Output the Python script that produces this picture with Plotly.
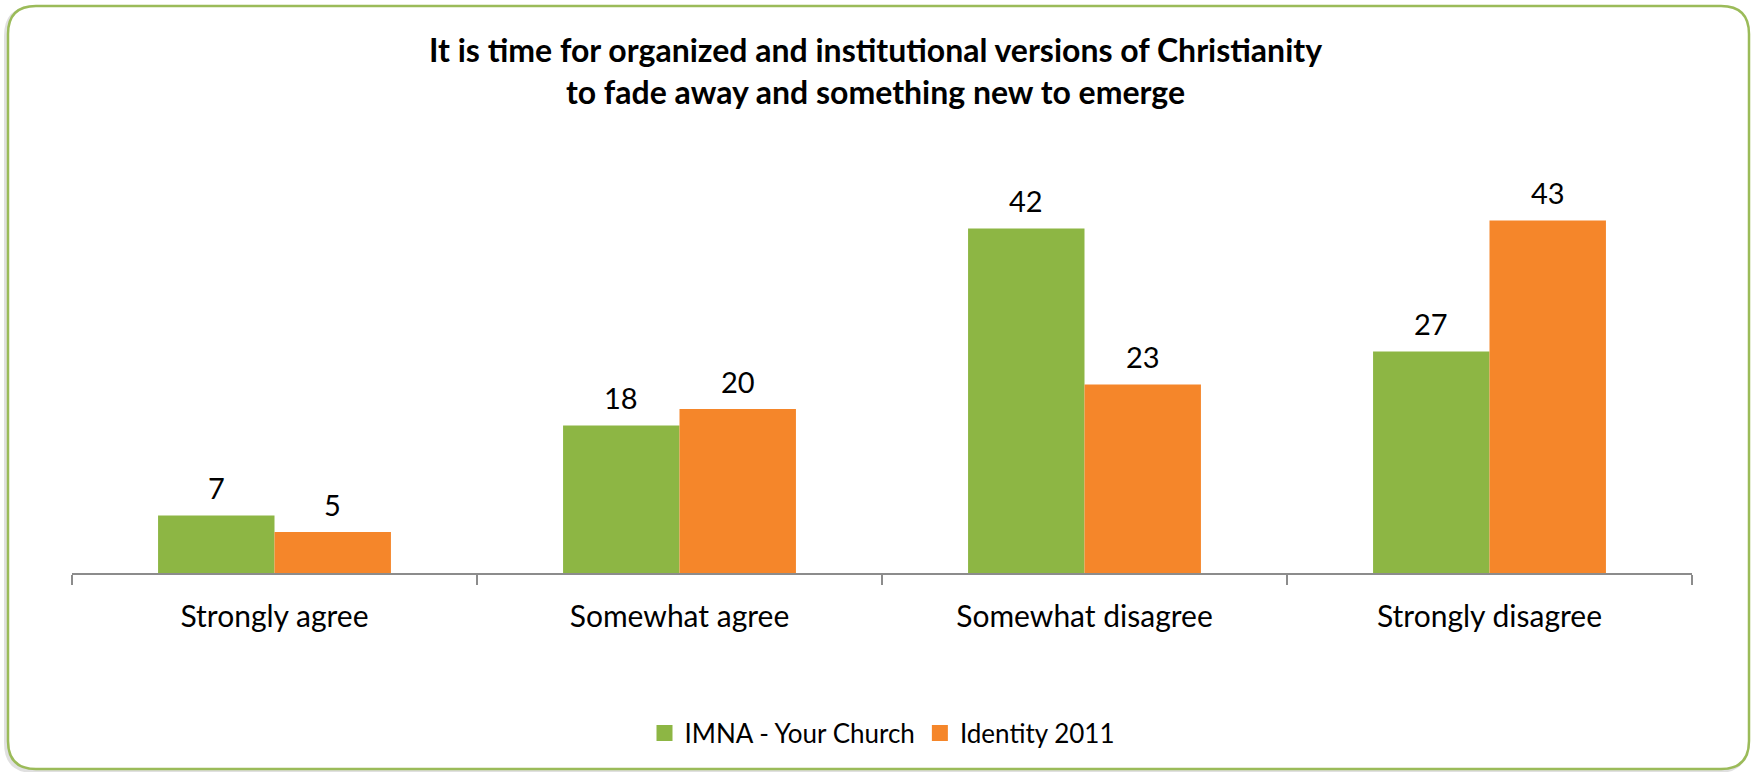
import plotly.graph_objects as go

categories = ["Strongly agree", "Somewhat agree", "Somewhat disagree", "Strongly disagree"]
series_names = ["IMNA - Your Church", "Identity 2011"]
imna_values = [7, 18, 42, 27]
identity_values = [5, 20, 23, 43]
series_values = [imna_values, identity_values]
series_colors = ["#8DB644", "#F5862A"]

title_text = ("It is time for organized and institutional versions of Christianity<br>"
              "to fade away and something new to emerge")

W, H = 1751, 772
ML, MR, MT, MB = 72, 59, 163, 199
YMAX = 50
BARGAP = 0.425
FONT = "Lato, 'Open Sans', sans-serif"

fig = go.Figure()
for name, vals, col in zip(series_names, series_values, series_colors):
    fig.add_trace(go.Bar(x=categories, y=vals, name=name, marker=dict(color=col, line=dict(width=0)),
                         showlegend=False, hoverinfo="x+y"))
    fig.add_trace(go.Scatter(x=[None], y=[None], mode="markers", name=name,
                             marker=dict(symbol="square", size=17, color=col)))

# value labels
off = (1 - BARGAP) / 4
for si, vals in enumerate(series_values):
    sign = -1 if si == 0 else 1
    for ci, v in enumerate(vals):
        fig.add_annotation(x=ci + sign * off, y=v, xref="x", yref="y", text=str(v), showarrow=False,
                           yanchor="middle", yshift=28, font=dict(family=FONT, size=29, color="#000"))

# rounded border
pw, ph = W - ML - MR, H - MT - MB
def px(x):
    return (x - ML) / pw
def py(y):
    return (H - MB - y) / ph

def rounded(x0, y0, x1, y1, r):
    return (f"M {px(x0 + r)},{py(y0)} L {px(x1 - r)},{py(y0)} "
            f"Q {px(x1)},{py(y0)} {px(x1)},{py(y0 + r)} "
            f"L {px(x1)},{py(y1 - r)} Q {px(x1)},{py(y1)} {px(x1 - r)},{py(y1)} "
            f"L {px(x0 + r)},{py(y1)} Q {px(x0)},{py(y1)} {px(x0)},{py(y1 - r)} "
            f"L {px(x0)},{py(y0 + r)} Q {px(x0)},{py(y0)} {px(x0 + r)},{py(y0)} Z")

fig.add_shape(type="path", xref="paper", yref="paper", path=rounded(6, 8, 1746, 771, 28),
              line=dict(color="rgba(0,0,0,0.12)", width=4), layer="below")
fig.add_shape(type="path", xref="paper", yref="paper", path=rounded(8, 6, 1749, 769, 28),
              line=dict(color="#9BBB59", width=2.5), fillcolor="white", layer="below")

fig.update_layout(
    width=W, height=H,
    margin=dict(l=ML, r=MR, t=MT, b=MB),
    paper_bgcolor="white", plot_bgcolor="rgba(0,0,0,0)",
    barmode="group", bargap=BARGAP, bargroupgap=0,
    title=dict(text=title_text, x=0.5, xref="container", xanchor="center",
               y=1 - 62 / H, yref="container", yanchor="middle",
               font=dict(family=FONT, size=32, color="#000", weight="bold")),
    legend=dict(orientation="h", x=0.5, xanchor="center", xref="paper",
                y=py(733), yanchor="middle", yref="paper",
                font=dict(family=FONT, size=26, color="#000"), itemwidth=30,
                bgcolor="rgba(0,0,0,0)"),
    showlegend=True,
)
fig.update_xaxes(type="category", showline=True, linecolor="#8C8C8C", linewidth=1.5,
                 ticks="outside", tickson="boundaries", ticklen=10, tickcolor="#8C8C8C", tickwidth=1.5,
                 tickfont=dict(family=FONT, size=30, color="#000"), ticklabelstandoff=16,
                 showgrid=False, zeroline=False)
fig.update_yaxes(range=[0, YMAX], visible=False, showgrid=False, zeroline=False)

fig.write_html("out.html", config={"displayModeBar": False},
               post_script="document.body.style.margin='0';document.body.style.overflow='hidden';")
